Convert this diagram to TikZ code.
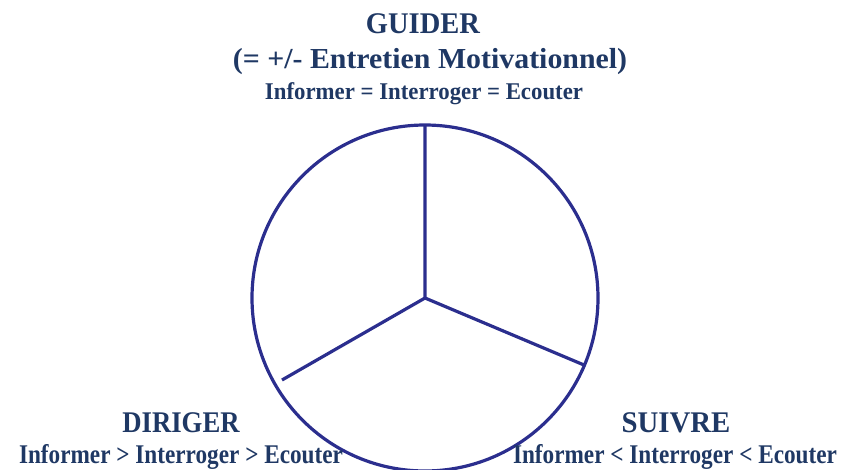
\documentclass[tikz,border=0pt]{standalone}
\usepackage{fontspec}
\setmainfont{Liberation Serif}
\definecolor{txt}{HTML}{1F3864}
\definecolor{ring}{HTML}{2B2E8E}
\newcommand{\hs}[2]{\scalebox{#1}[1]{#2}}
\begin{document}
\begin{tikzpicture}[x=1pt,y=-1pt,
  lbl/.style={text=txt,anchor=base,inner sep=0pt},
  title/.style={lbl,font=\bfseries\fontsize{30}{32}\selectfont},
  sub/.style={lbl,font=\bfseries\fontsize{29}{31}\selectfont},
  toprule/.style={lbl,font=\bfseries\fontsize{24}{26}\selectfont},
  botrule/.style={lbl,font=\bfseries\fontsize{27}{29}\selectfont},
  seg/.style={draw=ring,line width=3.2pt}]
\useasboundingbox (0,0) rectangle (859,469);
\coordinate (c) at (425,298);
\node[seg,circle,minimum size=346pt,inner sep=0pt] (circ) at (c) {};
\coordinate (top) at (425,125);
\coordinate (ll) at (282,380);
\coordinate (lr) at (584,365);
\draw[seg,line join=round] (top) -- (c) -- (ll);
\draw[seg] (c) -- (lr);
\node[title] (guider) at (423,33) {\hs{0.95}{GUIDER}};
\node[sub] (em) at (430,68) {\hs{1.03}{(= +/- Entretien Motivationnel)}};
\node[toprule] (gr) at (424,99) {\hs{0.95}{Informer = Interroger = Ecouter}};
\node[title] (dir) at (181,432) {\hs{0.89}{DIRIGER}};
\node[botrule] (dr) at (181,463) {\hs{0.86}{Informer > Interroger > Ecouter}};
\node[title] (sui) at (676,432) {\hs{0.96}{SUIVRE}};
\node[botrule] (sr) at (675,463) {\hs{0.86}{Informer < Interroger < Ecouter}};
\end{tikzpicture}
\end{document}
